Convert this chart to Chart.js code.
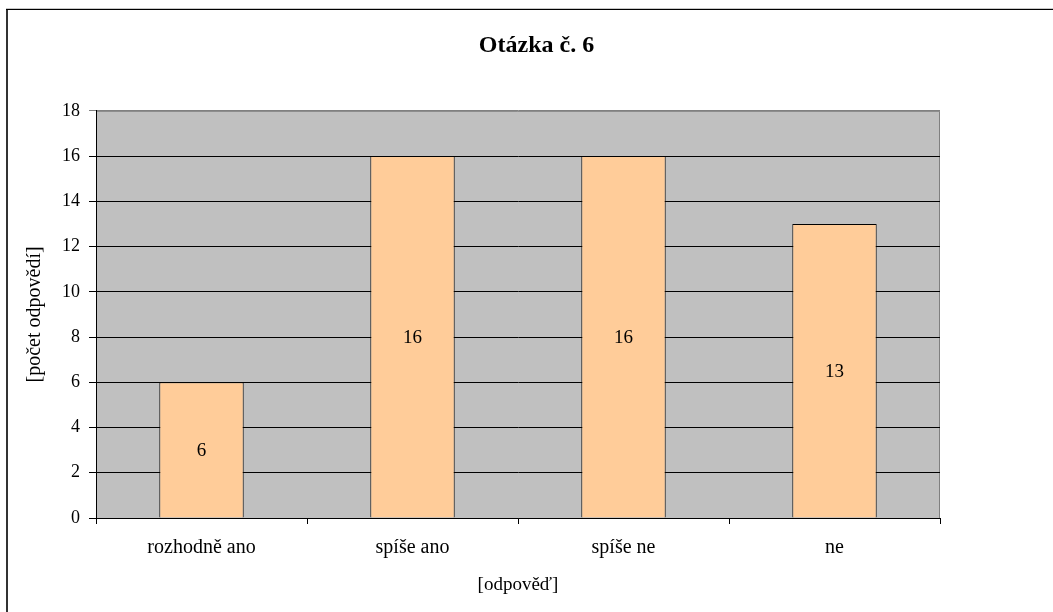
<!DOCTYPE html>
<html>
<head>
<meta charset="utf-8">
<script src="https://cdn.jsdelivr.net/npm/chart.js@4/dist/chart.umd.min.js"></script>
<style>
  html, body { margin: 0; padding: 0; background: #fff; }
  #wrap { width: 1053px; height: 612px; position: relative; }
</style>
</head>
<body>
<div id="wrap"><canvas id="chart"></canvas></div>
<script>
// data
const categories = ["rozhodně ano", "spíše ano", "spíše ne", "ne"];
const answers = [6, 16, 16, 13];
const yTicks = [0, 2, 4, 6, 8, 10, 12, 14, 16, 18];

const SERIF = "'Liberation Serif', 'Times New Roman', serif";

// -------------------------------------------------------------
// PLOT BACKGROUND + OUTER FRAME
// -------------------------------------------------------------
const plotArea = {
  id: "plotArea",
  beforeDraw(chart) {
    const { ctx, chartArea: a } = chart;
    ctx.save();
    // outer frame (runs off the right/bottom edge)
    ctx.fillStyle = "#333";
    ctx.fillRect(6, 9, 2, 620);
    ctx.fillStyle = "#000";
    ctx.fillRect(6, 9, 1100, 1);
    ctx.fillStyle = "#c8c8c8";
    ctx.fillRect(6, 8, 1100, 1);
    // gray plot area
    ctx.fillStyle = "#c0c0c0";
    ctx.fillRect(a.left, a.top, a.right - a.left, a.bottom - a.top);
    ctx.strokeStyle = "#808080";
    ctx.lineWidth = 1;
    ctx.beginPath();
    ctx.moveTo(a.left, a.top + 0.5);
    ctx.lineTo(a.right - 0.5, a.top + 0.5);
    ctx.lineTo(a.right - 0.5, a.bottom);
    ctx.stroke();
    ctx.restore();
  }
};

// -------------------------------------------------------------
// VALUE LABELS IN BAR CENTRE
// -------------------------------------------------------------
const barLabels = {
  id: "barLabels",
  afterDatasetsDraw(chart) {
    const { ctx } = chart;
    const meta = chart.getDatasetMeta(0);
    ctx.save();
    ctx.font = "19px " + SERIF;
    ctx.fillStyle = "#000";
    ctx.textAlign = "center";
    ctx.textBaseline = "middle";
    meta.data.forEach((bar, i) => {
      ctx.fillText(String(answers[i]), bar.x, (bar.y + bar.base) / 2 + 1);
    });
    ctx.restore();
  }
};

new Chart(document.getElementById("chart"), {
  type: "bar",
  data: {
    labels: categories,
    datasets: [{
      data: answers,
      backgroundColor: "#ffcc99",
      borderColor: "#000",
      borderWidth: 1,
      barPercentage: 0.4,
      categoryPercentage: 1
    }]
  },
  options: {
    responsive: true,
    maintainAspectRatio: false,
    animation: false,
    devicePixelRatio: 1,
    layout: { padding: { left: 20, right: 0, top: 0, bottom: 0 } },
    plugins: {
      legend: { display: false },
      tooltip: { enabled: false },
      title: {
        display: true,
        text: "Otázka č. 6",
        color: "#000",
        font: { family: SERIF, size: 24, weight: "bold" },
        padding: { top: 31, bottom: 51 }
      }
    },
    scales: {
      x: {
        afterFit(s) { s.height = 94; },
        grid: {
          display: true,
          drawOnChartArea: false,
          drawTicks: true,
          tickLength: 6,
          color: "#000",
          offset: true
        },
        border: { display: true, color: "#000", width: 1 },
        ticks: {
          color: "#000",
          font: { family: SERIF, size: 20 },
          padding: 12,
          maxRotation: 0
        },
        title: {
          display: true,
          text: "[odpověď]",
          color: "#000",
          font: { family: SERIF, size: 19 },
          padding: { top: 0, bottom: 16 }
        }
      },
      y: {
        min: 0,
        max: 18,
        afterFit(s) { s.width = 76; },
        afterBuildTicks(s) { s.ticks = yTicks.map(v => ({ value: v })); },
        grid: {
          color: ctx => (ctx.tick && ctx.tick.value === 18 ? "#808080" : "#000"),
          tickLength: 7,
          drawTicks: true
        },
        border: { display: true, color: "#000", width: 1 },
        ticks: {
          color: "#000",
          font: { family: SERIF, size: 18 },
          padding: 9
        },
        title: {
          display: true,
          text: "[počet odpovědí]",
          color: "#000",
          font: { family: SERIF, size: 20 },
          padding: { top: 3, bottom: 0 }
        }
      },
      // empty right-hand space, keeps the title centred like the original
      yRight: {
        position: "right",
        min: 0,
        max: 18,
        afterFit(s) { s.width = 113; },
        grid: { display: false, drawTicks: false },
        border: { display: false },
        ticks: { display: false }
      }
    }
  },
  plugins: [plotArea, barLabels]
});
</script>
</body>
</html>
